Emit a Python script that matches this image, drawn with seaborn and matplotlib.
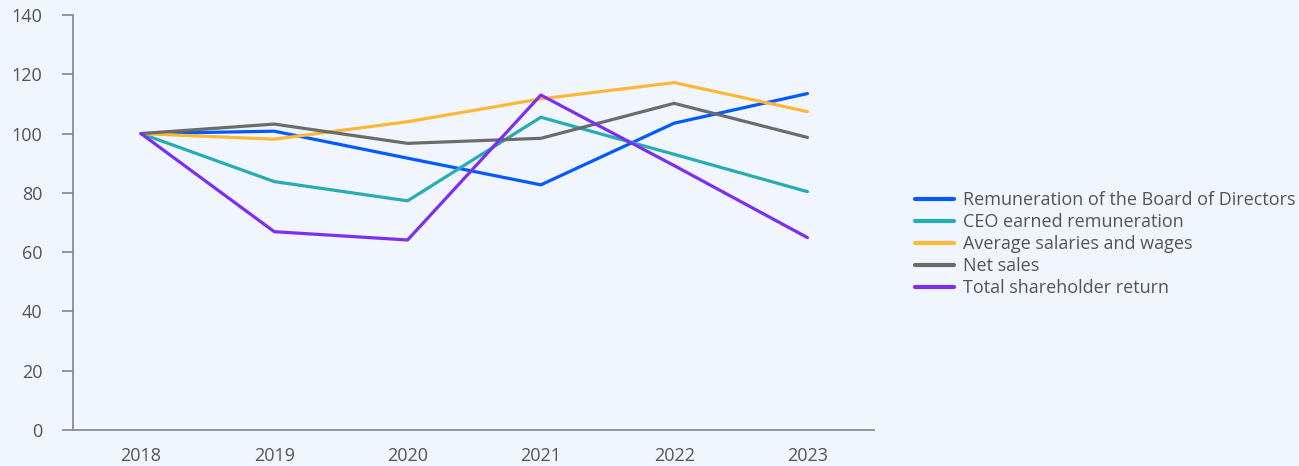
import matplotlib
matplotlib.use("Agg")
import matplotlib.pyplot as plt
import seaborn as sns
import pandas as pd

years = [2018, 2019, 2020, 2021, 2022, 2023]
board = [100, 100.8, 91.7, 82.7, 103.5, 113.5]
ceo = [100, 83.8, 77.3, 105.5, 93.0, 80.4]
salaries = [100, 98.1, 104.0, 111.7, 117.2, 107.4]
net_sales = [100, 103.2, 96.7, 98.4, 110.2, 98.7]
tsr = [100, 66.9, 64.1, 113.0, 89.2, 64.9]

series_names = [
    "Remuneration of the Board of Directors",
    "CEO earned remuneration",
    "Average salaries and wages",
    "Net sales",
    "Total shareholder return",
]
series_values = [board, ceo, salaries, net_sales, tsr]
colors = ["#005AFF", "#26ADB3", "#FDB739", "#6B6B6B", "#7C2FF2"]

rows = []
for name, vals in zip(series_names, series_values):
    for y, v in zip(years, vals):
        rows.append({"year": y, "value": v, "series": name})
df = pd.DataFrame(rows)

sns.set_theme(style="white")
plt.rcParams["font.family"] = ["Open Sans", "DejaVu Sans"]

bg = "#F1F5FE"
fig = plt.figure(figsize=(12.99, 4.66), dpi=100, facecolor=bg)
ax = fig.add_axes([0.0562, 0.0773, 0.6167, 0.8905], facecolor=bg)

sns.lineplot(data=df, x="year", y="value", hue="series", hue_order=series_names,
             palette=colors, linewidth=2.3, ax=ax, legend=True)

ax.set_xlim(2017.49, 2023.5)
ax.set_ylim(0, 140)
ax.set_yticks(range(0, 141, 20))
ax.set_xticks(years)
ax.set_xticklabels([str(y) for y in years])
ax.set_xlabel("")
ax.set_ylabel("")

for s in ["top", "right"]:
    ax.spines[s].set_visible(False)
for s in ["left", "bottom"]:
    ax.spines[s].set_color("#8C8C8C")
    ax.spines[s].set_linewidth(1.3)

ax.tick_params(axis="y", length=8, width=1.3, color="#8C8C8C", labelsize=13,
               labelcolor="#555555", pad=14, left=True)
ax.tick_params(axis="x", length=0, labelsize=13, labelcolor="#555555", pad=12)

handles, labels = ax.get_legend_handles_labels()
leg = ax.legend(handles, labels, loc="center left", bbox_to_anchor=(1.051, 0.448),
                frameon=False, fontsize=13, handlelength=2.15, handletextpad=0.5,
                labelspacing=0.22, borderaxespad=0, borderpad=0)
for t in leg.get_texts():
    t.set_color("#555555")
for l in leg.get_lines():
    l.set_linewidth(3)

fig.savefig("out.png", dpi=100, facecolor=bg)
